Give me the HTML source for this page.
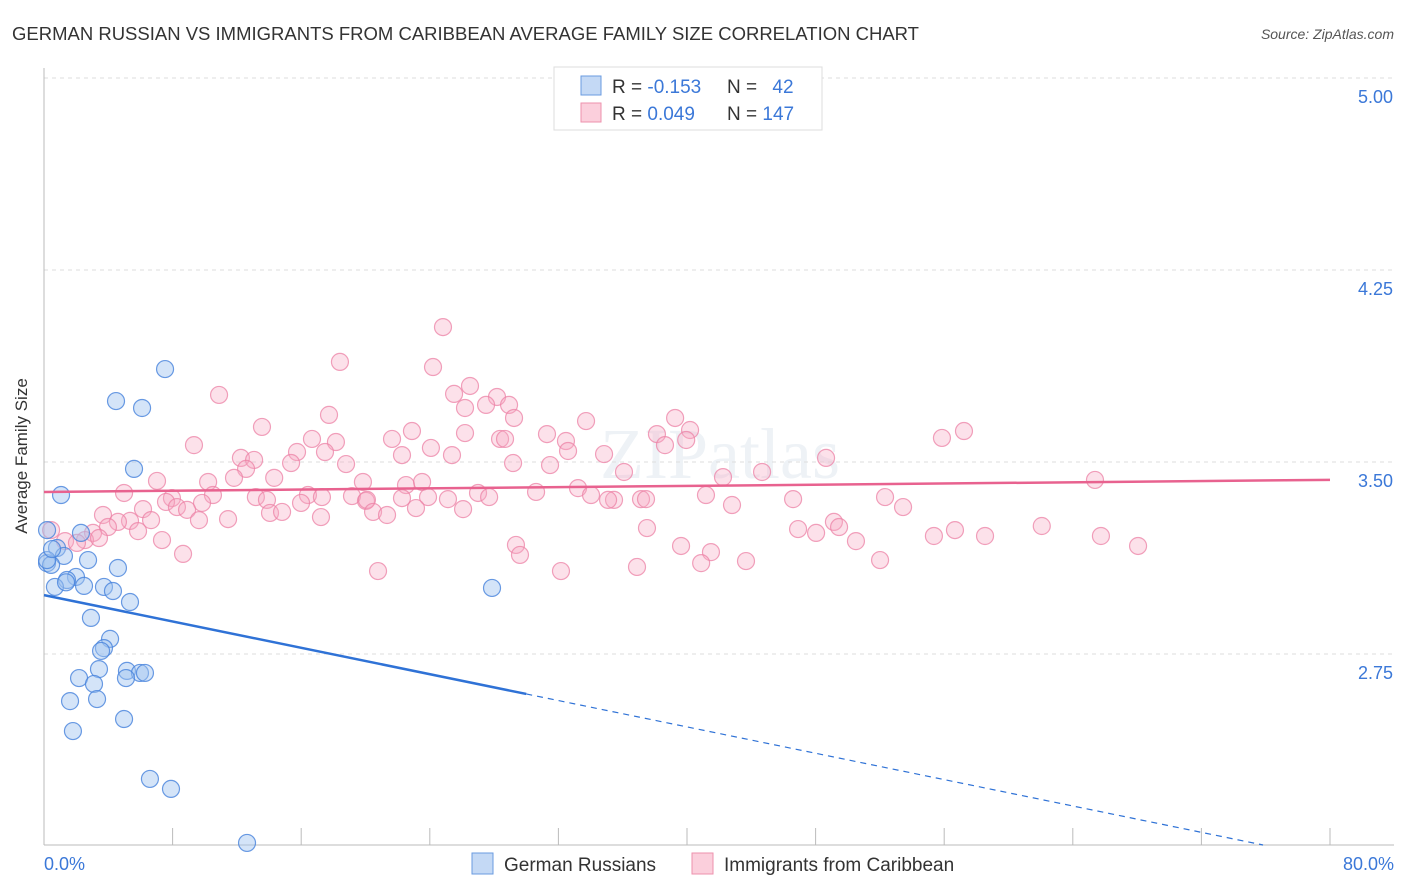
<!DOCTYPE html>
<html><head><meta charset="utf-8"><style>
body{margin:0;background:#fff;font-family:"Liberation Sans",sans-serif;}
svg{display:block}
</style></head><body>
<svg id="chart" width="1406" height="892">
<text x="12" y="40" font-size="18.5" fill="#333">GERMAN RUSSIAN VS IMMIGRANTS FROM CARIBBEAN AVERAGE FAMILY SIZE CORRELATION CHART</text>
<text x="1394" y="39" font-size="14" fill="#555" font-style="italic" text-anchor="end">Source: ZipAtlas.com</text>
<text x="720" y="478" font-size="72" fill="#eef2f6" text-anchor="middle" font-family="Liberation Serif">ZIPatlas</text>
<g id="grid"></g>
<g id="axes"></g>
<g id="pts"></g>
<g id="lines"></g>
<text x="27" y="456" font-size="17" fill="#333" text-anchor="middle" transform="rotate(-90 27 456)">Average Family Size</text>
<text x="44" y="870" font-size="18" fill="#3b78d8">0.0%</text>
<text x="1394" y="870" font-size="18" fill="#3b78d8" text-anchor="end">80.0%</text>
<g>
<rect x="554" y="67" width="268" height="63" fill="#fff" stroke="#ddd"/>
<rect x="581" y="76" width="20" height="19" fill="#c4d9f5" stroke="#6a9be0"/>
<rect x="581" y="103" width="20" height="19" fill="#fbcfdc" stroke="#ee92ad"/>
<text x="612" y="93" font-size="19" fill="#333">R = <tspan fill="#3b78d8">-0.153</tspan></text>
<text x="727" y="93" font-size="19" fill="#333">N = <tspan fill="#3b78d8" dx="10">42</tspan></text>
<text x="612" y="120" font-size="19" fill="#333">R = <tspan fill="#3b78d8">0.049</tspan></text>
<text x="727" y="120" font-size="19" fill="#333">N = <tspan fill="#3b78d8">147</tspan></text>
</g>
<g>
<rect x="472" y="853" width="21" height="21" fill="#c4d9f5" stroke="#6a9be0"/>
<text x="504" y="871" font-size="19" fill="#333">German Russians</text>
<rect x="692" y="853" width="21" height="21" fill="#fbcfdc" stroke="#ee92ad"/>
<text x="724" y="871" font-size="19" fill="#333">Immigrants from Caribbean</text>
</g>
</svg>
<script>
const yTicks=[5.00,4.25,3.50,2.75];
const xTickPcts=[0,8,16,24,32,40,48,56,64,72,80];
const blueX=[7.53,4.48,6.10,5.60,1.06,0.19,2.30,0.81,1.24,2.74,4.60,0.19,0.44,1.99,1.43,0.68,2.49,3.73,4.29,5.35,2.92,4.11,3.73,3.55,3.42,5.16,5.97,6.28,5.10,2.18,3.11,1.62,3.30,4.98,1.80,6.59,7.90,12.63,27.87,0.19,1.37,0.5];
const blueY=[3.863,3.738,3.711,3.473,3.371,3.234,3.223,3.164,3.133,3.117,3.086,3.105,3.098,3.051,3.039,3.012,3.016,3.012,2.996,2.953,2.891,2.809,2.773,2.762,2.691,2.684,2.676,2.676,2.656,2.656,2.633,2.566,2.574,2.496,2.449,2.262,2.223,2.012,3.008,3.117,3.03,3.16];
const pinkX=[24.82,18.41,24.20,26.50,25.51,10.89,28.18,28.93,27.50,26.19,17.73,29.24,33.72,39.26,13.56,22.89,26.19,31.29,40.19,57.23,55.86,38.13,21.65,16.67,28.37,28.68,39.95,18.16,32.47,38.63,9.33,24.07,15.74,17.48,32.60,34.84,25.38,22.27,12.25,48.65,13.07,15.37,18.79,29.18,31.48,12.57,36.08,44.67,42.24,65.38,7.03,10.21,11.82,14.32,19.84,22.52,23.52,33.22,4.98,16.42,27.00,30.61,41.18,52.32,7.96,10.51,13.18,17.29,19.16,13.87,22.27,23.89,25.13,27.69,34.03,35.46,37.14,37.45,46.60,20.03,20.09,7.59,9.83,15.99,35.09,42.80,53.44,8.27,8.90,23.14,26.07,14.06,14.81,20.47,6.16,3.67,21.34,17.23,6.66,11.45,9.64,5.35,4.60,3.98,49.14,62.07,56.67,46.91,37.51,3.05,5.85,49.46,55.36,58.54,65.75,48.03,0.44,2.55,1.31,2.05,3.42,7.34,29.36,39.63,50.51,68.06,41.49,29.61,8.65,40.88,43.67,52.01,36.89,32.16,20.78];
const pinkY=[4.027,3.891,3.871,3.797,3.766,3.762,3.754,3.723,3.723,3.711,3.684,3.672,3.660,3.672,3.637,3.621,3.613,3.609,3.625,3.621,3.594,3.609,3.590,3.590,3.590,3.590,3.586,3.578,3.582,3.566,3.566,3.555,3.539,3.539,3.543,3.531,3.527,3.527,3.516,3.516,3.508,3.496,3.492,3.496,3.488,3.473,3.461,3.461,3.441,3.430,3.426,3.422,3.438,3.438,3.422,3.410,3.422,3.398,3.379,3.371,3.379,3.383,3.371,3.363,3.359,3.371,3.363,3.363,3.367,3.352,3.359,3.363,3.355,3.363,3.371,3.352,3.355,3.355,3.355,3.348,3.352,3.344,3.340,3.340,3.352,3.332,3.324,3.324,3.313,3.320,3.316,3.301,3.305,3.305,3.316,3.293,3.293,3.285,3.273,3.277,3.273,3.270,3.266,3.246,3.266,3.250,3.234,3.238,3.242,3.223,3.230,3.246,3.211,3.211,3.211,3.223,3.234,3.195,3.191,3.184,3.203,3.195,3.176,3.172,3.191,3.172,3.148,3.137,3.141,3.105,3.113,3.117,3.090,3.074,3.074];
const blueTrend=[2.98,-0.01287]; // intercept, slope per %
const pinkTrend=[3.383,0.00059];
const NS='http://www.w3.org/2000/svg';
const X=p=>44+p*(1286/80);
const Y=v=>78+(5-v)*256;
function mk(tag,attrs,parent){const e=document.createElementNS(NS,tag);for(const k in attrs)e.setAttribute(k,attrs[k]);document.getElementById(parent).appendChild(e);return e;}
yTicks.forEach(t=>{
  const l=mk('line',{x1:44,x2:1394,y1:Y(t),y2:Y(t),stroke:'#ddd','stroke-dasharray':'4 4'},'grid');
  
  
  const tx=mk('text',{x:1393,y:Y(t)+25,'font-size':18,fill:'#3b78d8','text-anchor':'end'},'grid');
  tx.textContent=t.toFixed(2);
  
  
});
const ax=mk('line',{x1:44,x2:44,y1:68,y2:845,stroke:'#bbb'},'axes');


const bx=mk('line',{x1:44,x2:1394,y1:845,y2:845,stroke:'#bbb'},'axes');


xTickPcts.forEach(p=>{
  const t=mk('line',{x1:X(p),x2:X(p),y1:828,y2:845,stroke:'#bbb'},'axes');
  
  
});
pinkX.forEach((x,i)=>{
  const c=mk('circle',{cx:X(x),cy:Y(pinkY[i]),r:8.5,fill:'rgba(246,170,195,0.35)',stroke:'rgba(236,130,165,0.75)','stroke-width':1.2},'pts');
  
  
});
blueX.forEach((x,i)=>{
  const c=mk('circle',{cx:X(x),cy:Y(blueY[i]),r:8.5,fill:'rgba(160,195,240,0.45)',stroke:'rgba(70,130,220,0.8)','stroke-width':1.2},'pts');
  
  
});
const pl=mk('line',{x1:X(0),y1:Y(pinkTrend[0]),x2:X(80),y2:Y(pinkTrend[0]+80*pinkTrend[1]),stroke:'#e8628f','stroke-width':2.5},'lines');


const bl=mk('line',{x1:X(0),y1:Y(blueTrend[0]),x2:X(30),y2:Y(blueTrend[0]+30*blueTrend[1]),stroke:'#2f72d6','stroke-width':2.5},'lines');


const endP=Math.min(80,(blueTrend[0]-2.004)/(-blueTrend[1]));
const bd=mk('line',{x1:X(30),y1:Y(blueTrend[0]+30*blueTrend[1]),x2:X(endP),y2:Y(blueTrend[0]+endP*blueTrend[1]),stroke:'#2f72d6','stroke-width':1.2,'stroke-dasharray':'6 5'},'lines');


</script>
</body></html>
